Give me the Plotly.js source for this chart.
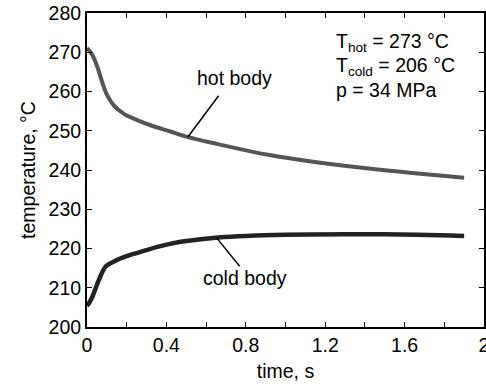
<!DOCTYPE html>
<html>
<head>
<meta charset="utf-8">
<script src="https://cdn.plot.ly/plotly-3.0.1.min.js"></script>
<style>html,body{margin:0;padding:0;background:#fff;}#chart{width:486px;height:392px;}</style>
</head>
<body>
<div id="chart"></div>
<script>
var tHot = [0, 0.005, 0.027, 0.052, 0.077, 0.102, 0.136, 0.186, 0.253, 0.32, 0.42, 0.5, 0.66, 0.92, 1.34, 1.9];
var hotTemp = [271.0, 270.8, 269.3, 266.3, 262.3, 259.0, 256.4, 254.3, 252.7, 251.4, 249.8, 248.5, 246.6, 243.8, 240.8, 238.0];
var tCold = [0, 0.005, 0.027, 0.06, 0.094, 0.136, 0.203, 0.286, 0.37, 0.43, 0.5, 0.66, 1.0, 1.5, 1.9];
var coldTemp = [205.5, 205.7, 207.7, 212.0, 215.4, 216.7, 218.1, 219.4, 220.6, 221.3, 221.9, 222.8, 223.5, 223.6, 223.2];
var xTickVals = [0, 0.4, 0.8, 1.2, 1.6, 2];
var xTickText = ['0', '0.4', '0.8', '1.2', '1.6', '2'];
var yTickVals = [200, 210, 220, 230, 240, 250, 260, 270, 280];
var infoLines = ['T<sub>hot</sub> = 273 °C', 'T<sub>cold</sub> = 206 °C', 'p = 34 MPa'];

var font = {family: 'Liberation Sans, Arial, sans-serif', size: 19.5, color: '#000'};

var traces = [
  {x: tHot, y: hotTemp, mode: 'lines', line: {color: '#555555', width: 4, shape: 'spline', smoothing: 1}, hoverinfo: 'none'},
  {x: tCold, y: coldTemp, mode: 'lines', line: {color: '#222222', width: 4.5, shape: 'spline', smoothing: 0.9}, hoverinfo: 'none'}
];

var infoY = [272.4, 266.3, 260.4];
var annotations = infoLines.map(function (s, i) {
  return {x: 1.245, y: infoY[i], xref: 'x', yref: 'y', text: s, showarrow: false, xanchor: 'left', yanchor: 'middle', font: font};
});
annotations.push({x: 0.744, y: 263.4, xref: 'x', yref: 'y', text: 'hot body', showarrow: false, font: font});
annotations.push({x: 0.794, y: 212.6, xref: 'x', yref: 'y', text: 'cold body', showarrow: false, font: font});

var layout = {
  width: 486, height: 392,
  margin: {l: 87, r: 2, t: 13, b: 65},
  paper_bgcolor: '#fff', plot_bgcolor: '#fff',
  showlegend: false,
  font: font,
  xaxis: {
    range: [0, 2], tickvals: xTickVals, ticktext: xTickText,
    ticks: 'inside', ticklen: 5, tickwidth: 1, tickcolor: '#000',
    minor: {dtick: 0.2, ticks: 'inside', ticklen: 5, tickwidth: 1, tickcolor: '#000'},
    showline: true, linecolor: '#000', linewidth: 2, mirror: 'ticks',
    showgrid: false, zeroline: false, ticklabeloverflow: 'allow',
    title: {text: 'time, s', font: font, standoff: 9},
    tickfont: font
  },
  yaxis: {
    range: [200, 280], tickvals: yTickVals,
    ticks: 'inside', ticklen: 5, tickwidth: 1, tickcolor: '#000',
    showline: true, linecolor: '#000', linewidth: 2, mirror: 'ticks',
    showgrid: false, zeroline: false,
    title: {text: 'temperature, °C', font: font, standoff: 8},
    tickfont: font
  },
  annotations: annotations,
  shapes: [
    {type: 'line', xref: 'x', yref: 'y', x0: 0.663, y0: 258.9, x1: 0.508, y1: 248.4, line: {color: '#000', width: 1.5}},
    {type: 'line', xref: 'x', yref: 'y', x0: 0.653, y0: 222.7, x1: 0.769, y1: 215.5, line: {color: '#000', width: 1.5}}
  ]
};

Plotly.newPlot('chart', traces, layout, {staticPlot: true, displayModeBar: false});
</script>
</body>
</html>
